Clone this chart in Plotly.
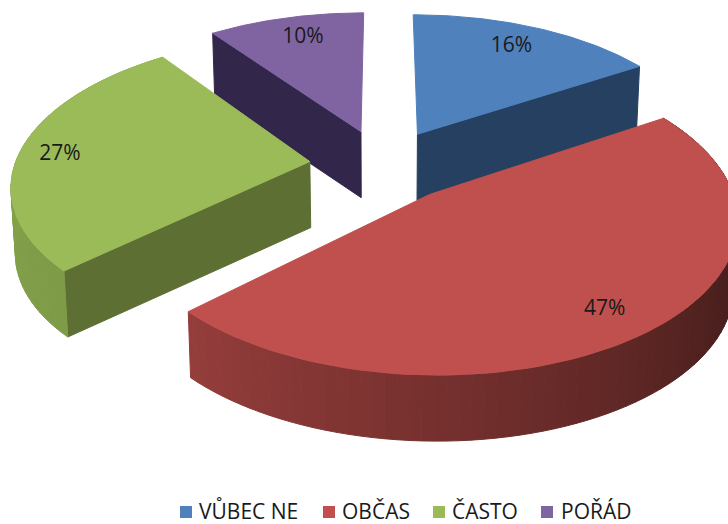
import math
import plotly.graph_objects as go

categories = ["VŮBEC NE", "OBČAS", "ČASTO", "POŘÁD"]
shares = [16, 47, 27, 10]
labels = ["16%", "47%", "27%", "10%"]

top_colors = ["#4f81bd", "#c0504d", "#9bbb59", "#8064a2"]
face_colors = ["#254061", "#4a1f1d", "#5d6f33", "#32264a"]
side_from = [(37, 64, 97), (150, 62, 60), (126, 156, 72), (50, 38, 74)]
side_to = [(37, 64, 97), (74, 31, 29), (140, 170, 80), (50, 38, 74)]
label_r = [0.80, 0.84, 0.86, 0.80]
label_shift = [-1, 1, -2, 1]
visible_face = [1, None, 0, 0]
key_swatch_x = [186, 329, 439, 547]
key_text_x = [199, 342, 452, 561]
KEY_Y = 512
KEY_TEXT_Y = 514

CX, CY, A, B, K, PULL, THICK, SHRINK = 383, 165, 295, 145, 0.145, 0.25, 66, 0.012


def project(r, f, z=0.0):
    s = 1 / (1 - K * f)
    return CX + A * r * s * (1 - SHRINK * z), CY + B * f * s + THICK * z


def disk(theta, radius, mid):
    t, m = math.radians(theta), math.radians(mid)
    return radius * math.sin(t) + PULL * math.sin(m), -radius * math.cos(t) - PULL * math.cos(m)


def poly(points, color, width=1):
    return go.Scatter(x=[p[0] for p in points] + [points[0][0]],
                      y=[p[1] for p in points] + [points[0][1]],
                      mode="lines", fill="toself", fillcolor=color,
                      line=dict(color=color, width=width),
                      hoverinfo="skip", showlegend=False)


fig = go.Figure()
spans, start = [], 0.0
for v in shares:
    spans.append((start, start + v * 3.6))
    start += v * 3.6

for i in [3, 0, 2, 1]:
    t0, t1 = spans[i]
    mid = (t0 + t1) / 2
    apex = disk(0, 0, mid)
    if visible_face[i] is not None:
        edge = disk((t0, t1)[visible_face[i]], 1, mid)
        fig.add_trace(poly([project(*apex), project(*edge), project(*edge, 1), project(*apex, 1)], face_colors[i]))
    if i in (1, 2):
        n = max(4, int((t1 - t0) / 2))
        for j in range(n):
            a, b = t0 + (t1 - t0) * j / n, t0 + (t1 - t0) * (j + 1) / n
            u = (j + 0.5) / n
            if i == 1:
                u = min(1.0, (1 - u) / 0.65)
            c = tuple(int(side_from[i][q] + (side_to[i][q] - side_from[i][q]) * u) for q in range(3))
            pa, pb = disk(a, 1, mid), disk(b, 1, mid)
            fig.add_trace(poly([project(*pa), project(*pb), project(*pb, 1), project(*pa, 1)], f"rgb{c}"))
    pts = [project(*apex)]
    m = 90
    for j in range(m + 1):
        pts.append(project(*disk(t0 + (t1 - t0) * j / m, 1, mid)))
    fig.add_trace(poly(pts, top_colors[i]))

for i, lab in enumerate(labels):
    t0, t1 = spans[i]
    mid = (t0 + t1) / 2
    x, y = project(*disk(mid + label_shift[i], label_r[i], mid))
    fig.add_trace(go.Scatter(x=[x], y=[y], mode="text", text=[lab], hoverinfo="skip", showlegend=False,
                             textfont=dict(family="Open Sans", size=21, color="#1a1a1a")))

for name, col, sx, tx in zip(categories, top_colors, key_swatch_x, key_text_x):
    fig.add_trace(go.Scatter(x=[sx], y=[KEY_Y], mode="markers", name=name, hoverinfo="skip", showlegend=False,
                             marker=dict(symbol="square", size=12, color=col)))
    fig.add_trace(go.Scatter(x=[tx], y=[KEY_TEXT_Y], mode="text", text=[name], textposition="middle right",
                             hoverinfo="skip", showlegend=False,
                             textfont=dict(family="Open Sans", size=21, color="#1a1a1a")))

fig.update_layout(
    width=728, height=524, margin=dict(l=0, r=0, t=0, b=0, autoexpand=False),
    paper_bgcolor="white", plot_bgcolor="white", showlegend=False,
    xaxis=dict(range=[0, 728], visible=False, fixedrange=True),
    yaxis=dict(range=[524, 0], visible=False, fixedrange=True),
)
fig.write_html("out.html", config={"displayModeBar": False},
               post_script="document.body.style.margin='0';document.body.style.overflow='hidden';")
